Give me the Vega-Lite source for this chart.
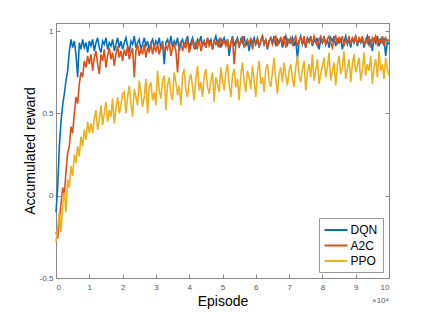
{
"$schema": "https://vega.github.io/schema/vega-lite/v6.json",
"width": 333, "height": 255,
"autosize": "none",
"padding": {"left": 56, "top": 23, "right": 41, "bottom": 35},
"config": {"view": {"stroke": null}, "font": "Liberation Sans"},
"datasets": {"curves": [
{"x":0,"DQN":-0.1,"A2C":-0.22,"PPO":-0.28},
{"x":0.05,"DQN":0.05,"A2C":-0.26,"PPO":-0.2},
{"x":0.1,"DQN":0.3,"A2C":-0.15,"PPO":-0.1},
{"x":0.15,"DQN":0.45,"A2C":-0.05,"PPO":-0.22},
{"x":0.2,"DQN":0.55,"A2C":0.05,"PPO":-0.05},
{"x":0.25,"DQN":0.62,"A2C":0.0,"PPO":0.02},
{"x":0.3,"DQN":0.7,"A2C":0.15,"PPO":-0.1},
{"x":0.35,"DQN":0.76,"A2C":0.26,"PPO":0.1},
{"x":0.4,"DQN":0.88,"A2C":0.3,"PPO":0.05},
{"x":0.45,"DQN":0.95,"A2C":0.42,"PPO":0.18},
{"x":0.5,"DQN":0.9,"A2C":0.38,"PPO":0.12},
{"x":0.55,"DQN":0.94,"A2C":0.5,"PPO":0.25},
{"x":0.6,"DQN":0.86,"A2C":0.6,"PPO":0.2},
{"x":0.65,"DQN":0.72,"A2C":0.56,"PPO":0.3},
{"x":0.7,"DQN":0.93,"A2C":0.68,"PPO":0.24},
{"x":0.75,"DQN":0.89,"A2C":0.75,"PPO":0.36},
{"x":0.8,"DQN":0.95,"A2C":0.72,"PPO":0.3},
{"x":0.85,"DQN":0.9,"A2C":0.82,"PPO":0.4},
{"x":0.9,"DQN":0.93,"A2C":0.78,"PPO":0.34},
{"x":0.95,"DQN":0.87,"A2C":0.85,"PPO":0.45},
{"x":1,"DQN":0.94,"A2C":0.8,"PPO":0.38},
{"x":1.05,"DQN":0.91,"A2C":0.86,"PPO":0.44},
{"x":1.1,"DQN":0.95,"A2C":0.76,"PPO":0.38},
{"x":1.15,"DQN":0.88,"A2C":0.84,"PPO":0.47},
{"x":1.2,"DQN":0.93,"A2C":0.88,"PPO":0.52},
{"x":1.25,"DQN":0.96,"A2C":0.8,"PPO":0.4},
{"x":1.3,"DQN":0.9,"A2C":0.74,"PPO":0.46},
{"x":1.35,"DQN":0.87,"A2C":0.86,"PPO":0.55},
{"x":1.4,"DQN":0.94,"A2C":0.82,"PPO":0.43},
{"x":1.45,"DQN":0.92,"A2C":0.89,"PPO":0.5},
{"x":1.5,"DQN":0.96,"A2C":0.78,"PPO":0.57},
{"x":1.55,"DQN":0.89,"A2C":0.85,"PPO":0.45},
{"x":1.6,"DQN":0.93,"A2C":0.9,"PPO":0.52},
{"x":1.65,"DQN":0.91,"A2C":0.83,"PPO":0.48},
{"x":1.7,"DQN":0.95,"A2C":0.87,"PPO":0.59},
{"x":1.75,"DQN":0.88,"A2C":0.79,"PPO":0.44},
{"x":1.8,"DQN":0.92,"A2C":0.86,"PPO":0.53},
{"x":1.85,"DQN":0.96,"A2C":0.91,"PPO":0.6},
{"x":1.9,"DQN":0.9,"A2C":0.84,"PPO":0.5},
{"x":1.95,"DQN":0.94,"A2C":0.88,"PPO":0.55},
{"x":2,"DQN":0.89,"A2C":0.82,"PPO":0.62},
{"x":2.05,"DQN":0.93,"A2C":0.89,"PPO":0.63},
{"x":2.1,"DQN":0.96,"A2C":0.85,"PPO":0.5},
{"x":2.15,"DQN":0.91,"A2C":0.91,"PPO":0.6},
{"x":2.2,"DQN":0.87,"A2C":0.83,"PPO":0.67},
{"x":2.25,"DQN":0.94,"A2C":0.87,"PPO":0.56},
{"x":2.3,"DQN":0.92,"A2C":0.9,"PPO":0.48},
{"x":2.35,"DQN":0.97,"A2C":0.72,"PPO":0.65},
{"x":2.4,"DQN":0.9,"A2C":0.88,"PPO":0.6},
{"x":2.45,"DQN":0.93,"A2C":0.92,"PPO":0.55},
{"x":2.5,"DQN":0.95,"A2C":0.85,"PPO":0.7},
{"x":2.55,"DQN":0.89,"A2C":0.89,"PPO":0.63},
{"x":2.6,"DQN":0.92,"A2C":0.86,"PPO":0.54},
{"x":2.65,"DQN":0.96,"A2C":0.92,"PPO":0.6},
{"x":2.7,"DQN":0.91,"A2C":0.84,"PPO":0.71},
{"x":2.75,"DQN":0.94,"A2C":0.9,"PPO":0.5},
{"x":2.8,"DQN":0.88,"A2C":0.87,"PPO":0.66},
{"x":2.85,"DQN":0.93,"A2C":0.93,"PPO":0.69},
{"x":2.9,"DQN":0.95,"A2C":0.86,"PPO":0.58},
{"x":2.95,"DQN":0.9,"A2C":0.91,"PPO":0.63},
{"x":3,"DQN":0.94,"A2C":0.88,"PPO":0.55},
{"x":3.05,"DQN":0.92,"A2C":0.92,"PPO":0.76},
{"x":3.1,"DQN":0.96,"A2C":0.86,"PPO":0.64},
{"x":3.15,"DQN":0.89,"A2C":0.9,"PPO":0.59},
{"x":3.2,"DQN":0.94,"A2C":0.93,"PPO":0.7},
{"x":3.25,"DQN":0.8,"A2C":0.87,"PPO":0.73},
{"x":3.3,"DQN":0.93,"A2C":0.91,"PPO":0.52},
{"x":3.35,"DQN":0.95,"A2C":0.89,"PPO":0.67},
{"x":3.4,"DQN":0.91,"A2C":0.94,"PPO":0.72},
{"x":3.45,"DQN":0.97,"A2C":0.85,"PPO":0.62},
{"x":3.5,"DQN":0.9,"A2C":0.9,"PPO":0.58},
{"x":3.55,"DQN":0.94,"A2C":0.92,"PPO":0.75},
{"x":3.6,"DQN":0.92,"A2C":0.88,"PPO":0.69},
{"x":3.65,"DQN":0.96,"A2C":0.75,"PPO":0.61},
{"x":3.7,"DQN":0.88,"A2C":0.91,"PPO":0.67},
{"x":3.75,"DQN":0.93,"A2C":0.94,"PPO":0.55},
{"x":3.8,"DQN":0.95,"A2C":0.88,"PPO":0.73},
{"x":3.85,"DQN":0.91,"A2C":0.92,"PPO":0.77},
{"x":3.9,"DQN":0.94,"A2C":0.9,"PPO":0.64},
{"x":3.95,"DQN":0.97,"A2C":0.95,"PPO":0.6},
{"x":4,"DQN":0.9,"A2C":0.87,"PPO":0.7},
{"x":4.05,"DQN":0.93,"A2C":0.91,"PPO":0.74},
{"x":4.1,"DQN":0.96,"A2C":0.94,"PPO":0.66},
{"x":4.15,"DQN":0.92,"A2C":0.89,"PPO":0.58},
{"x":4.2,"DQN":0.89,"A2C":0.93,"PPO":0.71},
{"x":4.25,"DQN":0.95,"A2C":0.9,"PPO":0.79},
{"x":4.3,"DQN":0.93,"A2C":0.95,"PPO":0.64},
{"x":4.35,"DQN":0.97,"A2C":0.88,"PPO":0.69},
{"x":4.4,"DQN":0.91,"A2C":0.92,"PPO":0.6},
{"x":4.45,"DQN":0.94,"A2C":0.94,"PPO":0.73},
{"x":4.5,"DQN":0.9,"A2C":0.9,"PPO":0.77},
{"x":4.55,"DQN":0.96,"A2C":0.96,"PPO":0.66},
{"x":4.6,"DQN":0.93,"A2C":0.91,"PPO":0.62},
{"x":4.65,"DQN":0.95,"A2C":0.93,"PPO":0.7},
{"x":4.7,"DQN":0.89,"A2C":0.89,"PPO":0.75},
{"x":4.75,"DQN":0.94,"A2C":0.95,"PPO":0.57},
{"x":4.8,"DQN":0.97,"A2C":0.92,"PPO":0.72},
{"x":4.85,"DQN":0.92,"A2C":0.94,"PPO":0.68},
{"x":4.9,"DQN":0.95,"A2C":0.9,"PPO":0.63},
{"x":4.95,"DQN":0.9,"A2C":0.96,"PPO":0.78},
{"x":5,"DQN":0.94,"A2C":0.92,"PPO":0.7},
{"x":5.05,"DQN":0.96,"A2C":0.94,"PPO":0.64},
{"x":5.1,"DQN":0.92,"A2C":0.91,"PPO":0.75},
{"x":5.15,"DQN":0.95,"A2C":0.95,"PPO":0.8},
{"x":5.2,"DQN":0.85,"A2C":0.89,"PPO":0.68},
{"x":5.25,"DQN":0.93,"A2C":0.93,"PPO":0.6},
{"x":5.3,"DQN":0.97,"A2C":0.96,"PPO":0.73},
{"x":5.35,"DQN":0.91,"A2C":0.8,"PPO":0.77},
{"x":5.4,"DQN":0.94,"A2C":0.92,"PPO":0.66},
{"x":5.45,"DQN":0.96,"A2C":0.95,"PPO":0.71},
{"x":5.5,"DQN":0.9,"A2C":0.91,"PPO":0.58},
{"x":5.55,"DQN":0.95,"A2C":0.94,"PPO":0.74},
{"x":5.6,"DQN":0.93,"A2C":0.97,"PPO":0.81},
{"x":5.65,"DQN":0.97,"A2C":0.9,"PPO":0.69},
{"x":5.7,"DQN":0.91,"A2C":0.93,"PPO":0.63},
{"x":5.75,"DQN":0.94,"A2C":0.95,"PPO":0.76},
{"x":5.8,"DQN":0.88,"A2C":0.92,"PPO":0.72},
{"x":5.85,"DQN":0.95,"A2C":0.96,"PPO":0.65},
{"x":5.9,"DQN":0.93,"A2C":0.89,"PPO":0.79},
{"x":5.95,"DQN":0.96,"A2C":0.94,"PPO":0.7},
{"x":6,"DQN":0.92,"A2C":0.93,"PPO":0.6},
{"x":6.05,"DQN":0.95,"A2C":0.96,"PPO":0.75},
{"x":6.1,"DQN":0.9,"A2C":0.91,"PPO":0.82},
{"x":6.15,"DQN":0.94,"A2C":0.94,"PPO":0.68},
{"x":6.2,"DQN":0.97,"A2C":0.97,"PPO":0.72},
{"x":6.25,"DQN":0.92,"A2C":0.92,"PPO":0.63},
{"x":6.3,"DQN":0.95,"A2C":0.95,"PPO":0.77},
{"x":6.35,"DQN":0.89,"A2C":0.9,"PPO":0.8},
{"x":6.4,"DQN":0.94,"A2C":0.94,"PPO":0.7},
{"x":6.45,"DQN":0.96,"A2C":0.96,"PPO":0.66},
{"x":6.5,"DQN":0.93,"A2C":0.92,"PPO":0.75},
{"x":6.55,"DQN":0.97,"A2C":0.95,"PPO":0.84},
{"x":6.6,"DQN":0.91,"A2C":0.97,"PPO":0.71},
{"x":6.65,"DQN":0.95,"A2C":0.91,"PPO":0.62},
{"x":6.7,"DQN":0.93,"A2C":0.94,"PPO":0.74},
{"x":6.75,"DQN":0.96,"A2C":0.96,"PPO":0.78},
{"x":6.8,"DQN":0.9,"A2C":0.93,"PPO":0.69},
{"x":6.85,"DQN":0.94,"A2C":0.97,"PPO":0.81},
{"x":6.9,"DQN":0.97,"A2C":0.9,"PPO":0.73},
{"x":6.95,"DQN":0.92,"A2C":0.95,"PPO":0.67},
{"x":7,"DQN":0.95,"A2C":0.93,"PPO":0.76},
{"x":7.05,"DQN":0.93,"A2C":0.96,"PPO":0.8},
{"x":7.1,"DQN":0.96,"A2C":0.92,"PPO":0.71},
{"x":7.15,"DQN":0.91,"A2C":0.95,"PPO":0.66},
{"x":7.2,"DQN":0.95,"A2C":0.97,"PPO":0.78},
{"x":7.25,"DQN":0.83,"A2C":0.91,"PPO":0.85},
{"x":7.3,"DQN":0.94,"A2C":0.94,"PPO":0.73},
{"x":7.35,"DQN":0.97,"A2C":0.96,"PPO":0.69},
{"x":7.4,"DQN":0.92,"A2C":0.93,"PPO":0.77},
{"x":7.45,"DQN":0.95,"A2C":0.97,"PPO":0.82},
{"x":7.5,"DQN":0.9,"A2C":0.9,"PPO":0.64},
{"x":7.55,"DQN":0.96,"A2C":0.95,"PPO":0.75},
{"x":7.6,"DQN":0.94,"A2C":0.93,"PPO":0.8},
{"x":7.65,"DQN":0.97,"A2C":0.96,"PPO":0.72},
{"x":7.7,"DQN":0.91,"A2C":0.92,"PPO":0.86},
{"x":7.75,"DQN":0.95,"A2C":0.97,"PPO":0.7},
{"x":7.8,"DQN":0.93,"A2C":0.94,"PPO":0.76},
{"x":7.85,"DQN":0.96,"A2C":0.91,"PPO":0.83},
{"x":7.9,"DQN":0.89,"A2C":0.95,"PPO":0.68},
{"x":7.95,"DQN":0.95,"A2C":0.97,"PPO":0.74},
{"x":8,"DQN":0.93,"A2C":0.93,"PPO":0.79},
{"x":8.05,"DQN":0.97,"A2C":0.96,"PPO":0.84},
{"x":8.1,"DQN":0.92,"A2C":0.92,"PPO":0.72},
{"x":8.15,"DQN":0.95,"A2C":0.95,"PPO":0.78},
{"x":8.2,"DQN":0.9,"A2C":0.97,"PPO":0.87},
{"x":8.25,"DQN":0.96,"A2C":0.93,"PPO":0.7},
{"x":8.3,"DQN":0.94,"A2C":0.9,"PPO":0.76},
{"x":8.35,"DQN":0.97,"A2C":0.95,"PPO":0.81},
{"x":8.4,"DQN":0.91,"A2C":0.97,"PPO":0.67},
{"x":8.45,"DQN":0.95,"A2C":0.92,"PPO":0.79},
{"x":8.5,"DQN":0.93,"A2C":0.96,"PPO":0.85},
{"x":8.55,"DQN":0.96,"A2C":0.94,"PPO":0.74},
{"x":8.6,"DQN":0.89,"A2C":0.97,"PPO":0.78},
{"x":8.65,"DQN":0.94,"A2C":0.91,"PPO":0.88},
{"x":8.7,"DQN":0.97,"A2C":0.95,"PPO":0.71},
{"x":8.75,"DQN":0.92,"A2C":0.93,"PPO":0.77},
{"x":8.8,"DQN":0.95,"A2C":0.97,"PPO":0.83},
{"x":8.85,"DQN":0.9,"A2C":0.92,"PPO":0.69},
{"x":8.9,"DQN":0.96,"A2C":0.96,"PPO":0.8},
{"x":8.95,"DQN":0.93,"A2C":0.94,"PPO":0.86},
{"x":9,"DQN":0.97,"A2C":0.97,"PPO":0.75},
{"x":9.05,"DQN":0.91,"A2C":0.92,"PPO":0.79},
{"x":9.1,"DQN":0.95,"A2C":0.96,"PPO":0.84},
{"x":9.15,"DQN":0.93,"A2C":0.94,"PPO":0.7},
{"x":9.2,"DQN":0.96,"A2C":0.97,"PPO":0.77},
{"x":9.25,"DQN":0.9,"A2C":0.91,"PPO":0.87},
{"x":9.3,"DQN":0.94,"A2C":0.95,"PPO":0.73},
{"x":9.35,"DQN":0.97,"A2C":0.93,"PPO":0.8},
{"x":9.4,"DQN":0.92,"A2C":0.97,"PPO":0.76},
{"x":9.45,"DQN":0.95,"A2C":0.9,"PPO":0.85},
{"x":9.5,"DQN":0.88,"A2C":0.96,"PPO":0.68},
{"x":9.55,"DQN":0.96,"A2C":0.94,"PPO":0.78},
{"x":9.6,"DQN":0.93,"A2C":0.97,"PPO":0.83},
{"x":9.65,"DQN":0.97,"A2C":0.92,"PPO":0.72},
{"x":9.7,"DQN":0.91,"A2C":0.95,"PPO":0.88},
{"x":9.75,"DQN":0.95,"A2C":0.93,"PPO":0.76},
{"x":9.8,"DQN":0.93,"A2C":0.97,"PPO":0.8},
{"x":9.85,"DQN":0.96,"A2C":0.91,"PPO":0.71},
{"x":9.9,"DQN":0.85,"A2C":0.96,"PPO":0.84},
{"x":9.95,"DQN":0.94,"A2C":0.94,"PPO":0.77},
{"x":10,"DQN":0.92,"A2C":0.95,"PPO":0.73}
]},
"layer": [
  {
    "data": {"name": "curves"},
    "transform": [{"fold": ["DQN", "A2C", "PPO"], "as": ["method", "reward"]}],
    "mark": {"type": "line", "strokeWidth": 1.6},
    "encoding": {
      "x": {"field": "x", "type": "quantitative",
        "scale": {"domain": [0, 10], "nice": false, "zero": false},
        "axis": {"orient": "bottom", "values": [0,1,2,3,4,5,6,7,8,9,10], "grid": false,
          "title": "Episode", "titleFontSize": 14, "titleFontWeight": "normal", "titleColor": "#000", "titlePadding": 3,
          "labelFontSize": 8, "labelColor": "#555", "labelPadding": 9,
          "domainColor": "#888", "tickColor": "#888", "tickSize": -4}},
      "y": {"field": "reward", "type": "quantitative",
        "scale": {"domain": [-0.5, 1.05], "nice": false, "zero": false},
        "axis": {"orient": "left", "values": [-0.5, 0, 0.5, 1], "grid": false, "labelExpr": "datum.value + ''",
          "title": "Accumulated reward", "titleFontSize": 14, "titleFontWeight": "normal", "titleColor": "#000", "titlePadding": 2,
          "labelFontSize": 8, "labelColor": "#555", "labelPadding": 7,
          "domainColor": "#888", "tickColor": "#888", "tickSize": -4}},
      "color": {"field": "method", "type": "nominal",
        "scale": {"domain": ["DQN", "A2C", "PPO"], "range": ["#0072BD", "#D95319", "#EDB120"]},
        "legend": {"title": null, "orient": "bottom-right", "offset": 6, "strokeColor": "#999", "fillColor": "white",
          "padding": 5, "labelFontSize": 12, "labelColor": "#000", "labelOffset": 7.5, "rowPadding": 2.5,
          "symbolType": "M-1.92,0H1.92", "symbolOffset": 5, "symbolStrokeWidth": 2, "symbolSize": 144}}
    }
  },
  {
    "data": {"values": [{"label": "×10⁴"}]},
    "mark": {"type": "text", "align": "right", "baseline": "middle", "dy": 23, "fontSize": 8, "color": "#555"},
    "encoding": {
      "text": {"field": "label"},
      "x": {"datum": 10, "type": "quantitative",
        "axis": {"orient": "top", "values": [0,1,2,3,4,5,6,7,8,9,10], "labels": false, "title": null, "grid": false,
          "domainColor": "#888", "tickColor": "#888", "tickSize": -4}},
      "y": {"datum": -0.5, "type": "quantitative",
        "axis": {"orient": "right", "values": [-0.5, 0, 0.5, 1], "labels": false, "title": null, "grid": false,
          "domainColor": "#888", "tickColor": "#888", "tickSize": -4}}
    }
  }
],
"resolve": {"axis": {"x": "independent", "y": "independent"}}
}
